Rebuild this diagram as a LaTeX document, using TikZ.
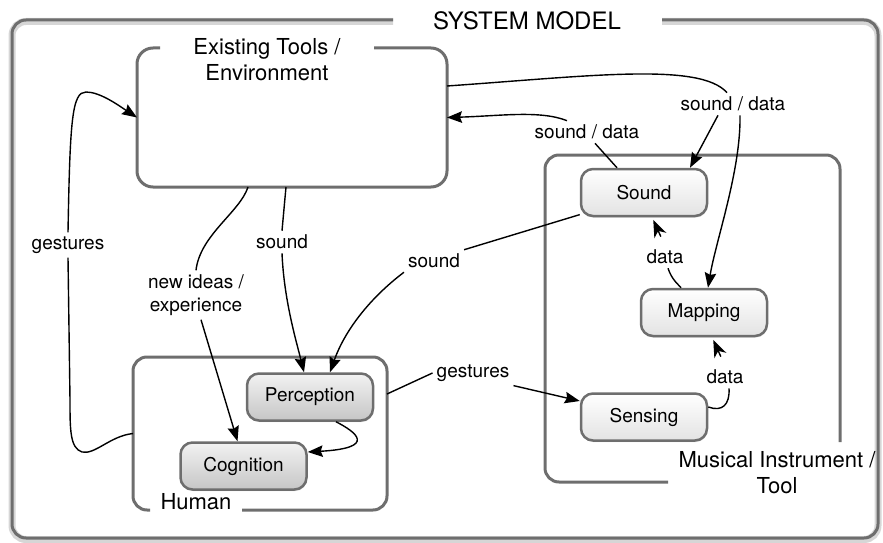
\documentclass[tikz,border=0pt]{standalone}
\usepackage{fontspec}
\setmainfont{TeX Gyre Heros}
\usetikzlibrary{arrows.meta,shadows}
\definecolor{frameGray}{HTML}{6E6E6E}
\begin{document}
\begin{tikzpicture}[x=1pt,y=-1pt,
  every node/.style={font=\fontsize{19}{22}\selectfont},
  container/.style={draw=frameGray, line width=3pt, rounded corners=14pt},
  frameshade/.style={draw=black, opacity=0.16, line width=7pt, rounded corners=14pt},
  unit/.style={draw=frameGray, line width=2.5pt, rounded corners=12pt,
    minimum width=126pt, minimum height=47pt, inner sep=0pt,
    top color=white, bottom color=gray!22,
    drop shadow={shadow xshift=0.6pt, shadow yshift=-1.6pt, opacity=0.25}},
  unitdark/.style={unit, top color=gray!10, bottom color=gray!45},
  hidden/.style={inner sep=0pt, outer sep=0pt},
  lbl/.style={inner sep=4pt, align=center},
  ctitle/.style={font=\fontsize{22}{26}\selectfont, align=center, inner sep=2pt},
  plain/.style={line width=1.4pt},
  flow/.style={plain, -{Stealth[length=15pt,width=11.5pt,inset=2pt]}},
  pointer/.style={plain, -{Stealth[length=17pt,width=13pt,inset=5pt]}, shorten <=10pt, shorten >=3pt}
]
\useasboundingbox (0,0) rectangle (883,543);

% outer system frame with its soft shadow and a gap for the title
\draw[frameshade, yshift=-1.5pt] (393,20) -- (12,20) -- (12,538) -- (878,538) -- (878,20) -- (662,20);
\draw[container] (393,20) -- (12,20) -- (12,538) -- (878,538) -- (878,20) -- (662,20);
\node[font=\fontsize{24}{28}\selectfont] (systitle) at (527,21) {SYSTEM MODEL};

% existing tools / environment
\draw[container, rounded corners=16pt] (160,48) -- (137,48) -- (137,187) -- (447,187) -- (447,48) -- (374,48);
\node[hidden, minimum width=310pt, minimum height=139pt] (env) at (292,117.5) {};
\node[ctitle] (envtitle) at (267,60) {Existing Tools /\\Environment};

% human
\draw[container] (242,510) -- (387,510) -- (387,357) -- (133,357) -- (133,510) -- (150,510);
\node[hidden, minimum width=254pt, minimum height=153pt] (human) at (260,433.5) {};
\node[ctitle] (humantitle) at (196,502) {Human};

% musical instrument / tool
\draw[container] (840,442) -- (840,155) -- (545,155) -- (545,482) -- (668,482);
\node[ctitle] (instrtitle) at (777,473) {Musical Instrument /\\Tool};

% components
\node[unit] (sound) at (644,192.5) {Sound};
\node[unit] (mapping) at (704,312.5) {Mapping};
\node[unit] (sensing) at (644,417) {Sensing};
\node[unitdark] (perception) at (310,397) {Perception};
\node[unitdark] (cognition) at (243.5,466) {Cognition};

% connector labels
\node[lbl] (lsdA) at (733,104) {sound / data};
\node[lbl] (lsdB) at (587,132) {sound / data};
\node[lbl] (lsndA) at (434,261) {sound};
\node[lbl] (lsndB) at (282,242) {sound};
\node[lbl, font=\fontsize{19}{23}\selectfont] (lidea) at (196,295) {new ideas /\\experience};
\node[lbl] (lgestA) at (473,373) {gestures};
\node[lbl] (lgestB) at (68,245) {gestures};
\node[lbl] (ldataA) at (665,257) {data};
\node[lbl] (ldataB) at (725,377) {data};

% environment -> instrument
\draw[plain] ([yshift=31.5pt]env.east) .. controls (590,76) and (700,62) .. ([xshift=-6pt]lsdA.north);
\draw[flow] ([xshift=-15pt]lsdA.south) -- ([xshift=46pt]sound.north);
\draw[flow] ([xshift=7pt]lsdA.south) .. controls (741,170) and (716,240) .. ([xshift=4pt]mapping.north);

% instrument sound -> environment
\draw[plain] ([xshift=-27pt]sound.north) -- ([xshift=8pt]lsdB.south);
\draw[flow] ([xshift=-20pt]lsdB.north) .. controls (540,110) and (500,116) .. (env.east);

% instrument sound -> perception
\draw[plain] (sound.199) -- (lsndA.north east);
\draw[flow] (lsndA.south west) .. controls (370,298) and (345,330) .. ([xshift=20pt]perception.north);

% environment -> perception
\draw[plain] ([xshift=-6pt]env.south) -- (lsndB.north);
\draw[flow] (lsndB.south) .. controls (284,300) and (296,340) .. ([xshift=-6pt]perception.north);

% environment -> cognition
\draw[plain] ([xshift=-44pt]env.south) .. controls (240,212) and (200,235) .. (lidea.north);
\draw[flow] ([xshift=5pt]lidea.south) -- ([xshift=-6pt]cognition.north);

% perception -> cognition
\draw[flow] ([xshift=26pt]perception.south) .. controls (356,432) and (378,448) .. ([yshift=14pt]cognition.east);

% human gestures -> sensing
\draw[plain] ([yshift=39.5pt]human.east) -- (lgestA.west);
\draw[flow] (lgestA.south east) -- ([yshift=16pt]sensing.west);

% human gestures -> environment
\draw[plain] (human.west) .. controls (110,436) and (95,455) .. (82,452)
  .. controls (70,448) and (70,430) .. (70,400) -- (lgestB.south);
\draw[flow] (lgestB.north) .. controls (70,120) and (72,92) .. (86,92)
  .. controls (100,92) and (118,105) .. (env.west);

% data inside the instrument
\draw[plain] ([xshift=-23pt]mapping.north) .. controls (678,284) and (672,280) .. ([xshift=3pt]ldataA.south);
\draw[pointer] (ldataA.north) -- ([xshift=8pt]sound.south);
\draw[plain] ([yshift=10pt]sensing.east) .. controls (722,412) and (730,405) .. ([xshift=4pt]ldataB.south);
\draw[pointer] (ldataB.north) -- ([xshift=8pt]mapping.south);
\end{tikzpicture}
\end{document}
